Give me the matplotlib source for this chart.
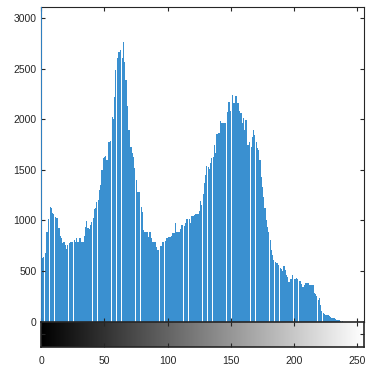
import numpy as np
import matplotlib
matplotlib.use("Agg")
import matplotlib.pyplot as plt

# gray level counts (bin 0 runs off the top)
counts_0_47 = [5000, 626, 642, 675, 883, 883, 1015, 1137, 1120, 1071,
               1060, 1038, 1022, 1028, 923, 850, 824, 774, 785, 757,
               718, 757, 774, 790, 790, 790, 807, 790, 824, 790,
               830, 830, 790, 790, 850, 939, 995, 923, 918, 955,
               988, 1022, 1114, 1127, 1186, 1203, 1300, 1350]
counts_48_93 = [1500, 1620, 1632, 1640, 1600, 1780, 1780, 1790, 2028, 2000,
                2226, 2490, 2606, 2671, 2671, 2690, 2606, 2770, 2572, 2390,
                2130, 1896, 1896, 1731, 1668, 1632, 1520, 1402, 1282, 1282,
                1282, 1133, 1087, 906, 889, 889, 885, 840, 889, 826,
                790, 790, 785, 741, 708, 708]
counts_94_139 = [748, 750, 790, 790, 795, 824, 824, 840, 840, 845,
                 876, 876, 978, 889, 889, 890, 916, 955, 955, 950,
                 972, 1012, 1012, 1010, 972, 1045, 1045, 1050, 1064, 1064,
                 1065, 1090, 1195, 1155, 1260, 1370, 1450, 1535, 1530, 1510,
                 1565, 1615, 1630, 1745, 1665, 1860]
counts_140_189 = [1865, 1865, 1985, 1960, 1960, 1965, 1960, 2075, 2175, 2170,
                  2085, 2240, 2160, 2165, 2230, 2165, 2160, 2085, 2060, 1965,
                  2010, 1895, 1995, 1750, 1750, 1780, 1730, 1825, 1895, 1850,
                  1780, 1715, 1700, 1600, 1435, 1335, 1235, 1120, 1005, 940,
                  890, 805, 710, 660, 610, 590, 575, 575, 560, 530]
counts_190_238 = [515, 495, 550, 510, 460, 445, 395, 425, 420, 465,
                  420, 425, 430, 425, 405, 400, 370, 345, 360, 385,
                  385, 380, 360, 365, 360, 360, 285, 270, 250, 215,
                  230, 165, 105, 85, 75, 65, 62, 60, 50, 45,
                  32, 30, 30, 22, 15, 15, 12, 5, 4]

counts = counts_0_47 + counts_48_93 + counts_94_139 + counts_140_189 + counts_190_238
counts = np.array(counts + [0] * (256 - len(counts)), dtype=float)
levels = np.arange(256)

x_ticks = [0, 50, 100, 150, 200, 250]
y_ticks = [0, 500, 1000, 1500, 2000, 2500, 3000]

text_col = "#262626"
bar_col = "#3a90d0"
plt.rcParams["font.family"] = ["Liberation Sans", "DejaVu Sans"]
plt.rcParams["font.size"] = 7.5

fig = plt.figure(figsize=(3.67, 3.69), dpi=100)
ax = fig.add_axes([0.1125, 0.1287, 0.8793, 0.8515])
cax = fig.add_axes([0.1125, 0.0588, 0.8793, 0.0699])

ax.bar(levels[1:], counts[1:], width=0.9, color=bar_col, edgecolor="none")
# bin 0 sits on the left edge, draw it over the spine
ax.bar(levels[:1], counts[:1], width=1.0, color="#2f7fc0", edgecolor="none", zorder=3)
ax.set_xlim(0, 255.3)
ax.set_ylim(0, 3110)
ax.set_xticks(x_ticks)
ax.set_xticklabels([])
ax.set_yticks(y_ticks)
ax.tick_params(direction="in", length=3, width=0.8, top=True, right=True,
               colors=text_col, labelcolor=text_col)
for s in ax.spines.values():
    s.set_color(text_col)
    s.set_linewidth(0.8)

# grayscale strip under the histogram
cax.imshow(levels[None, :], cmap="gray", aspect="auto",
           extent=[-0.5, 255.5, 0, 1], vmin=0, vmax=255)
cax.set_xlim(0, 255.3)
cax.set_ylim(0, 1)
cax.set_xticks(x_ticks)
cax.set_yticks([0.5])
cax.set_yticklabels([])
cax.tick_params(direction="in", length=3, width=0.8, top=True, right=True,
                colors=text_col, labelcolor=text_col, pad=6)
for s in cax.spines.values():
    s.set_color(text_col)
    s.set_linewidth(1.2)

fig.savefig("out.png", dpi=100)
